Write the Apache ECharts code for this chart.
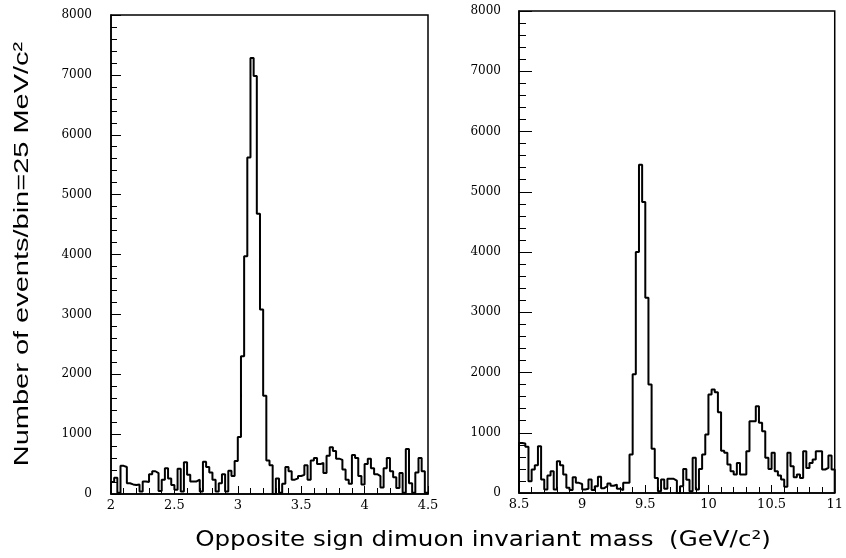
<!DOCTYPE html>
<html><head><meta charset="utf-8">
<script src="https://cdn.jsdelivr.net/npm/echarts@6/dist/echarts.min.js"></script>
<style>html,body{margin:0;padding:0;background:#fff}#c{width:846px;height:558px}</style>
</head><body><div id="c"></div>
<script>
// Bin width 25 MeV/c^2
const binWidth = 0.025;
const leftStart = 2.0, leftEnd = 4.5;
const rightStart = 8.5, rightEnd = 11.0;
const yMin = 0, yMax = 8000, yStep = 1000;
const leftXStep = 0.5, rightXStep = 0.5;

const leftCounts = [
  200, 270, 20, 470, 450, 180, 160, 150, 160, 40,
  210, 200, 330, 380, 350, 50, 240, 430, 260, 150,
  70, 420, 40, 530, 320, 210, 210, 240, 40, 540,
  450, 360, 240, 40, 180, 330, 40, 390, 300, 550,
  950, 2300, 3970, 5620, 7280, 6980, 4680, 3080, 1640, 560,
  480, 0, 260, 20, 170, 450, 380, 240, 260, 300,
  320, 480, 240, 560, 600, 500, 520, 350, 640, 780,
  720, 590, 570, 410, 240, 170, 650, 600, 300, 160,
  500, 590, 430, 330, 300, 110, 430, 600, 380, 280,
  100, 350, 20, 750, 180, 20, 360, 600, 380, 20
];
const rightCounts = [
  830, 820, 766, 196, 390, 462, 776, 224, 58, 290,
  362, 58, 528, 462, 307, 86, 50, 262, 169, 150,
  58, 70, 224, 50, 110, 268, 80, 113, 157, 120,
  140, 70, 47, 169, 170, 640, 1970, 4000, 5450, 4830,
  3240, 1800, 733, 251, 30, 224, 70, 235, 235, 207,
  0, 113, 400, 220, 30, 583, 60, 400, 640, 970,
  1635, 1717, 1672, 1340, 700, 666, 473, 362, 307, 500,
  307, 307, 694, 1190, 1190, 1440, 1164, 1025, 583, 400,
  666, 362, 290, 224, 102, 666, 445, 262, 307, 251,
  694, 417, 500, 556, 694, 694, 390, 417, 622, 390
];
const yTitle = 'Number of events/bin=25 MeV/c²';
const xTitle = 'Opposite sign dimuon invariant mass  (GeV/c²)';

function outline(start, counts) {
  const pts = [[start, 0]];
  counts.forEach((v, i) => {
    const a = +(start + i * binWidth).toFixed(4);
    const b = +(start + (i + 1) * binWidth).toFixed(4);
    pts.push([a, v], [b, v]);
  });
  pts.push([+(start + counts.length * binWidth).toFixed(4), 0]);
  return pts;
}

const serif = 'DejaVu Serif';

function xAxis(idx, min, max, step) {
  return {
    type: 'value', gridIndex: idx, min: min, max: max, interval: step,
    axisLine: { show: true, onZero: false, lineStyle: { color: '#000', width: 1.5 } },
    axisTick: { show: true, inside: true, length: 8, lineStyle: { color: '#000', width: 1 } },
    minorTick: { show: true, splitNumber: 5, length: 6, lineStyle: { color: '#000', width: 1 } },
    axisLabel: { margin: 5, formatter: v => String(v), color: '#000', fontFamily: serif, fontSize: 13 },
    splitLine: { show: false }
  };
}
function yAxis(idx, majorLen, minorLen, margin) {
  return {
    type: 'value', gridIndex: idx, min: yMin, max: yMax, interval: yStep,
    axisLine: { show: true, lineStyle: { color: '#000', width: 1.5 } },
    axisTick: { show: true, inside: true, length: majorLen, lineStyle: { color: '#000', width: 1 } },
    minorTick: { show: true, splitNumber: 5, length: minorLen, lineStyle: { color: '#000', width: 1 } },
    axisLabel: { margin: margin, formatter: v => String(v), color: '#000', fontFamily: serif, fontSize: 12 },
    splitLine: { show: false }
  };
}

const chart = echarts.init(document.getElementById('c'), null, { renderer: 'canvas' });
chart.setOption({
  animation: false,
  backgroundColor: '#fff',
  grid: [
    { left: 111, top: 15, width: 317, height: 479, show: true, borderColor: '#000', borderWidth: 1.5, backgroundColor: 'transparent' },
    { left: 519, top: 11, width: 316, height: 482, show: true, borderColor: '#000', borderWidth: 1.5, backgroundColor: 'transparent' }
  ],
  xAxis: [xAxis(0, leftStart, leftEnd, leftXStep), xAxis(1, rightStart, rightEnd, rightXStep)],
  yAxis: [yAxis(0, 10, 6, 19), yAxis(1, 13, 7, 18)],
  series: [
    { type: 'line', xAxisIndex: 0, yAxisIndex: 0, data: outline(leftStart, leftCounts), showSymbol: false, symbol: 'none',
      lineStyle: { color: '#000', width: 2 }, clip: true },
    { type: 'line', xAxisIndex: 1, yAxisIndex: 1, data: outline(rightStart, rightCounts), showSymbol: false, symbol: 'none',
      lineStyle: { color: '#000', width: 2 }, clip: true }
  ],
  graphic: [
    { type: 'text', x: 22, y: 254, rotation: Math.PI / 2, scaleX: 1.38,
      style: { text: yTitle, fill: '#000', font: '21px "Liberation Sans", sans-serif', align: 'center', verticalAlign: 'middle' } },
    { type: 'text', x: 483, y: 541, scaleX: 1.17,
      style: { text: xTitle, fill: '#000', font: '21px "DejaVu Sans", sans-serif', align: 'center', verticalAlign: 'middle' } }
  ]
});
</script></body></html>
